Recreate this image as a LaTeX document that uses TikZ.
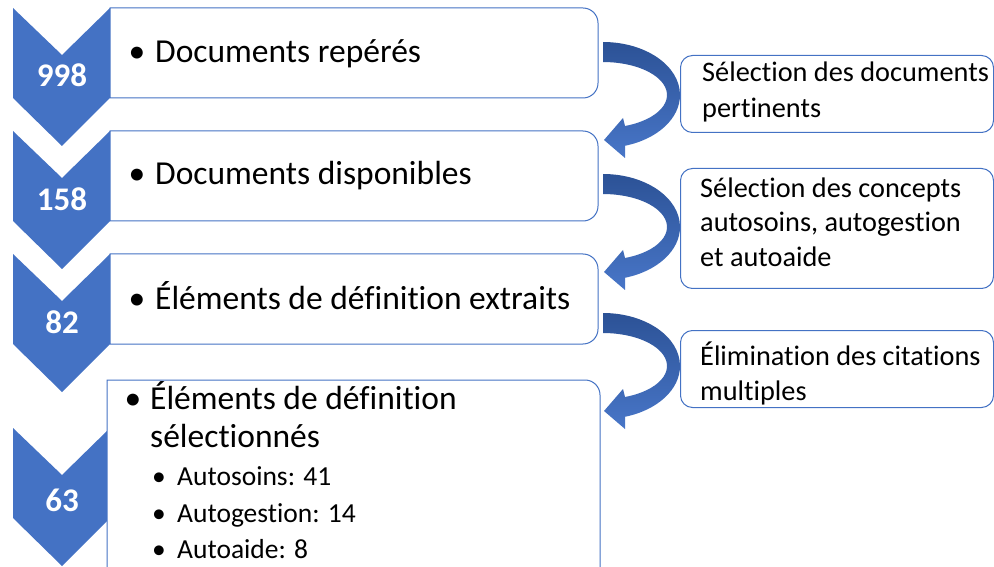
\documentclass[tikz,border=0pt]{standalone}
\usepackage{fontspec}
\setmainfont{Carlito}[Ligatures=NoCommon]
\definecolor{cblue}{RGB}{68,114,196}
\definecolor{adark}{RGB}{44,82,150}
\definecolor{alight}{RGB}{72,118,200}
\begin{document}
\begin{tikzpicture}[x=1pt,y=1pt,
  chev/.style={fill=cblue},
  mainbox/.style={draw=cblue, line width=1pt, fill=white},
  sidebox/.style={draw=cblue, line width=1pt, fill=white, rounded corners=12pt, minimum width=313pt, inner sep=0pt, anchor=north west},
  num/.style={text=white, inner sep=0pt, font=\fontsize{33}{36}\selectfont\bfseries},
  maintxt/.style={anchor=base west, inner sep=0pt, font=\fontsize{33.5}{38}\selectfont},
  mainbul/.style={anchor=base, inner sep=0pt, font=\fontsize{33.5}{38}\selectfont},
  subtxt/.style={anchor=base west, inner sep=0pt, font=\fontsize{27.5}{32}\selectfont},
  subbul/.style={anchor=base, inner sep=0pt, font=\fontsize{27.5}{32}\selectfont},
  sidetxt/.style={anchor=base west, inner sep=0pt, font=\fontsize{28.3}{34}\selectfont},
  arr/.style={top color=adark, bottom color=alight, draw=none}
]
\useasboundingbox (0,0) rectangle (994,566);

% chevrons
\foreach \t in {558,435,312,138}{
  \fill[chev] (13,\t) -- (62,\t-47) -- (110,\t) -- (110,\t-90) -- (62,\t-138) -- (13,\t-90) -- cycle;
}

% main boxes
\draw[mainbox] (110,558) -- (583,558) arc[start angle=90,end angle=0,radius=15pt] -- (598,483) arc[start angle=0,end angle=-90,radius=15pt] -- (110,468) -- cycle;
\draw[mainbox] (110,435) -- (583,435) arc[start angle=90,end angle=0,radius=15pt] -- (598,360) arc[start angle=0,end angle=-90,radius=15pt] -- (110,345) -- cycle;
\draw[mainbox] (110,312) -- (583,312) arc[start angle=90,end angle=0,radius=15pt] -- (598,237) arc[start angle=0,end angle=-90,radius=15pt] -- (110,222) -- cycle;
\draw[mainbox] (107,-5) -- (107,186) -- (585,186) arc[start angle=90,end angle=0,radius=15pt] -- (600,-5);

% side boxes
\node[sidebox, minimum height=77pt] (sa) at (680,511) {};
\node[sidebox, minimum height=120pt] (sb) at (680,398) {};
\node[sidebox, minimum height=77pt] (sc) at (680,236) {};

% numbers
\node[num] (n1) at (62,490.5) {998};
\node[num] (n2) at (62,367) {158};
\node[num] (n3) at (62,244) {82};
\node[num] (n4) at (62,66) {63};

% main texts
\node[mainbul] (b1) at (137,503) {•};
\node[maintxt] (t1) at (155,503) {Documents repérés};
\node[mainbul] (b2) at (137,381) {•};
\node[maintxt] (t2) at (155,381) {Documents disponibles};
\node[mainbul] (b3) at (137,257) {•};
\node[maintxt] (t3) at (155,257) {Éléments de définition extraits};
\node[mainbul] (b4) at (133,157) {•};
\node[maintxt] (t4) at (150,157) {Éléments de définition};
\node[maintxt] (t4b) at (150,119) {sélectionnés};
\node[subbul] (s1b) at (159,81) {•};
\node[subtxt] (s1) at (177,81) {Autosoins: 41};
\node[subbul] (s2b) at (159,44) {•};
\node[subtxt] (s2) at (177,44) {Autogestion: 14};
\node[subbul] (s3b) at (159,8) {•};
\node[subtxt] (s3) at (177,8) {Autoaide: 8};

% side texts
\node[sidetxt] (ta1) at (702,484) {Sélection des documents};
\node[sidetxt] (ta2) at (702,448) {pertinents};
\node[sidetxt] (tb1) at (700,368) {Sélection des concepts};
\node[sidetxt] (tb2) at (700,334) {autosoins, autogestion};
\node[sidetxt] (tb3) at (700,299) {et autoaide};
\node[sidetxt] (tc1) at (700,201) {Élimination des citations};
\node[sidetxt] (tc2) at (700,166) {multiples};

% curved arrows
\coordinate (a1) at (603,471);
\coordinate (a2) at (603,339);
\coordinate (a3) at (603,200);
\foreach \c in {a1,a2,a3}{
  \begin{scope}[shift={(\c)}]
    \path[arr] (0,53) arc[start angle=90,end angle=-73.4,x radius=77pt,y radius=53pt]
      -- (22,-63) -- (1,-45) -- (20,-23) -- (22,-31)
      arc[start angle=-69.9,end angle=90,x radius=64pt,y radius=33pt] -- cycle;
  \end{scope}
}
\end{tikzpicture}
\end{document}
